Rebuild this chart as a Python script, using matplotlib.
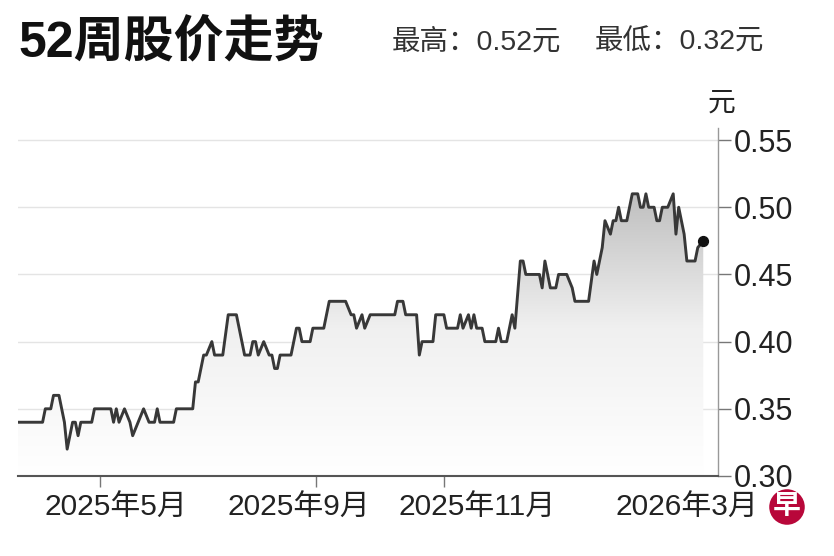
import numpy as np
import matplotlib.pyplot as plt
from matplotlib.colors import LinearSegmentedColormap

plt.rcParams['font.family'] = ['Liberation Sans', 'Noto Sans CJK SC']

# trading day index (0 = first day of the 52 weeks) and closing price in 元
days = [0, 9, 10, 12, 13, 15, 16, 17, 18, 20, 21, 22, 23, 27, 28, 34, 35, 36, 37, 39,
        41, 42, 44, 46, 48, 50, 51, 52, 57, 58, 64, 65, 66, 68, 69, 71, 72, 75, 77, 80,
        81, 83, 85, 86, 87, 88, 90, 92, 93, 94, 95, 96, 100, 102, 103, 104, 107, 108, 112, 114,
        120, 122, 123, 124, 126, 127, 129, 138, 139, 141, 142, 146, 147, 148, 152, 153, 156, 157, 161, 162,
        163, 165, 166, 167, 168, 170, 171, 175, 176, 177, 179, 181, 182, 184, 185, 186, 191, 192, 193, 195,
        197, 198, 201, 203, 204, 209, 211, 212, 214, 215, 217, 218, 219, 220, 221, 223, 225, 227, 228, 229,
        230, 231, 233, 234, 235, 236, 238, 240, 241, 242, 243, 244, 245, 248, 249, 251]
price = [0.34, 0.34, 0.35, 0.35, 0.36, 0.36, 0.35, 0.34, 0.32, 0.34, 0.34, 0.33, 0.34, 0.34, 0.35, 0.35, 0.34, 0.35, 0.34, 0.35,
         0.34, 0.33, 0.34, 0.35, 0.34, 0.34, 0.35, 0.34, 0.34, 0.35, 0.35, 0.37, 0.37, 0.39, 0.39, 0.40, 0.39, 0.39, 0.42, 0.42,
         0.41, 0.39, 0.39, 0.40, 0.40, 0.39, 0.40, 0.39, 0.39, 0.38, 0.38, 0.39, 0.39, 0.41, 0.41, 0.40, 0.40, 0.41, 0.41, 0.43,
         0.43, 0.42, 0.42, 0.41, 0.42, 0.41, 0.42, 0.42, 0.43, 0.43, 0.42, 0.42, 0.39, 0.40, 0.40, 0.42, 0.42, 0.41, 0.41, 0.42,
         0.41, 0.42, 0.41, 0.42, 0.41, 0.41, 0.40, 0.40, 0.41, 0.40, 0.40, 0.42, 0.41, 0.46, 0.46, 0.45, 0.45, 0.44, 0.46, 0.44,
         0.44, 0.45, 0.45, 0.44, 0.43, 0.43, 0.46, 0.45, 0.47, 0.49, 0.48, 0.49, 0.49, 0.50, 0.49, 0.49, 0.51, 0.51, 0.50, 0.50,
         0.51, 0.50, 0.50, 0.49, 0.49, 0.50, 0.50, 0.51, 0.48, 0.50, 0.49, 0.48, 0.46, 0.46, 0.47, 0.475]

tick_days = [30, 109, 156, 245]
label_days = [36, 103, 168, 245]
month_labels = ['2025年5月', '2025年9月', '2025年11月', '2026年3月']
y_ticks = [0.30, 0.35, 0.40, 0.45, 0.50, 0.55]
high_price = 0.52
low_price = 0.32

fig = plt.figure(figsize=(8.34, 5.56), dpi=100)
ax = fig.add_axes([0.0216, 0.1439, 0.8393, 0.6259])
ax.set_xlim(0, 256.4)
ax.set_ylim(0.30, 0.559)

# grey gradient under the line
area = ax.fill_between(days, price, 0.30, color='none', lw=0)
cmap = LinearSegmentedColormap.from_list('fade', ['#ffffff', '#f0f0f0', '#bababa'])
grad = np.linspace(0, 1, 256).reshape(-1, 1)
img = ax.imshow(grad, extent=[0, days[-1], 0.30, 0.52], origin='lower',
                aspect='auto', cmap=cmap, zorder=1)
img.set_clip_path(area.get_paths()[0], transform=ax.transData)

ax.plot(days, price, color='#383838', lw=2.1, zorder=3, solid_joinstyle='round')
ax.scatter([days[-1]], [price[-1]], s=50, color='#111111', zorder=4)

# axes styling
ax.set_yticks(y_ticks)
ax.set_yticklabels(['%.2f' % v for v in y_ticks])
ax.yaxis.tick_right()
ax.yaxis.grid(True, color='#e4e4e4', lw=1)
ax.set_axisbelow(True)
ax.tick_params(axis='y', length=9, width=1, color='#777777', pad=2,
               labelsize=22, labelcolor='#222222')

ax.set_xticks(label_days)
ax.set_xticklabels(month_labels)
ax.set_xticks(tick_days, minor=True)
ax.tick_params(axis='x', which='major', length=0, pad=13, labelsize=21.5, labelcolor='#222222')
ax.tick_params(axis='x', which='minor', length=8, width=1, color='#777777')

for s in ['left', 'top']:
    ax.spines[s].set_visible(False)
ax.spines['bottom'].set_color('#555555')
ax.spines['bottom'].set_linewidth(1.5)
ax.spines['right'].set_color('#999999')
ax.spines['right'].set_linewidth(1)

# header texts
fig.text(18 / 834, 1 - 43 / 556, '52周股价走势', fontsize=36, fontweight='heavy',
         ha='left', va='center', color='#111111')
fig.text(392 / 834, 1 - 42 / 556, '最高：%.2f元' % high_price, fontsize=20.5,
         ha='left', va='center', color='#333333')
fig.text(595 / 834, 1 - 42 / 556, '最低：%.2f元' % low_price, fontsize=20.5,
         ha='left', va='center', color='#333333')
fig.text(722 / 834, 1 - 104 / 556, '元', fontsize=20, ha='center', va='center', color='#222222')

# logo
fig.text(787 / 834, 1 - 507 / 556, '早', fontsize=20, fontweight='bold', color='white',
         ha='center', va='center',
         bbox=dict(boxstyle='circle,pad=0.14', fc='#b8073a', ec='none'))

fig.savefig('out.png', dpi=100)
